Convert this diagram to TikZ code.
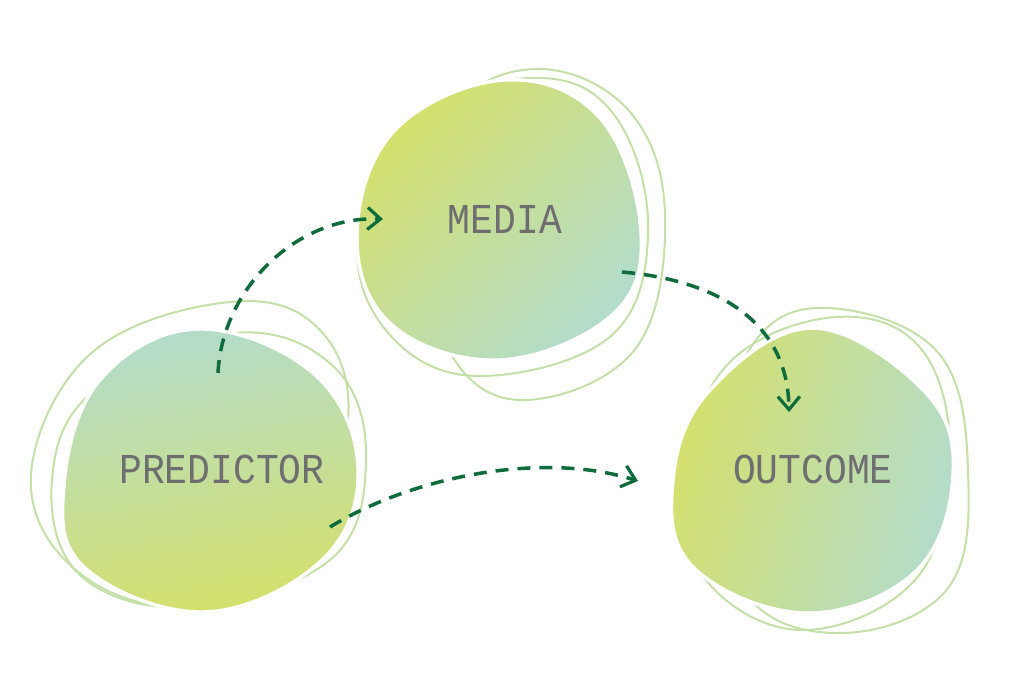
\documentclass[tikz,border=0pt]{standalone}
\usepackage{fontspec}
\newfontfamily\blobfont{Liberation Mono}
\usetikzlibrary{arrows.meta}

\definecolor{blobyellow}{HTML}{D5E06B}
\definecolor{blobteal}{HTML}{B3DCCB}
\definecolor{blobmid}{HTML}{C6E0A0}
\definecolor{scribblegreen}{HTML}{C4E0A8}
\definecolor{arrowgreen}{HTML}{0E6B3B}
\definecolor{textgray}{HTML}{6E6E70}

\begin{document}
\begin{tikzpicture}[x=1pt,y=-1pt,
  blob/.style={draw=white,line width=3.5pt},
  scribble/.style={draw=scribblegreen,line width=2pt},
  blobtext/.style={font=\blobfont\fontsize{38}{38}\selectfont,text=textgray},
  dasharrow/.style={draw=arrowgreen,line width=3.5pt,dash pattern=on 13pt off 9pt,
    -{Straight Barb[length=13pt,width=22pt,line width=3.2pt]}}]

\fill[white] (0,0) rectangle (1024,677);
\useasboundingbox (0,0) rectangle (1024,677);

% media scribbles
\draw[scribble] plot[smooth cycle,tension=0.65] coordinates {(540,69) (630,112) (665,215) (636,348) (527,400) (452,356) (425,235) (455,110)};
\draw[scribble] plot[smooth cycle,tension=0.65] coordinates {(530,78) (612,112) (648,225) (612,335) (480,376) (390,335) (358,240) (410,118)};

% media blob
\shade[blob,top color=blobyellow,middle color=blobmid,bottom color=blobteal,shading angle=45]
  plot[smooth cycle,tension=0.65] coordinates {(505,80) (600,118) (641,232) (612,315) (500,360) (392,325) (357,235) (395,130)};
\node[blobtext] (media) at (505,219) {\scalebox{1}[1.12]{MEDIA}};

% predictor scribbles
\draw[scribble] plot[smooth cycle,tension=0.65] coordinates {(230,302) (318,328) (348,420) (300,555) (170,605) (65,560) (32,465) (95,350)};
\draw[scribble] plot[smooth cycle,tension=0.65] coordinates {(235,333) (335,368) (366,460) (330,560) (190,607) (80,575) (52,480) (95,390)};

% predictor blob
\shade[blob,top color=blobteal,middle color=blobmid,bottom color=blobyellow,shading angle=10]
  plot[smooth cycle,tension=0.65] coordinates {(197,329) (313,373) (358,467) (322,560) (205,612) (85,568) (64,485) (100,380)};
\node[blobtext] (predictor) at (222,469) {\scalebox{1}[1.12]{PREDICTOR}};

% outcome scribbles
\draw[scribble] plot[smooth cycle,tension=0.65] coordinates {(840,309) (940,355) (968,470) (948,588) (843,633) (745,592) (720,450) (760,335)};
\draw[scribble] plot[smooth cycle,tension=0.65] coordinates {(837,317) (922,350) (950,460) (915,580) (800,630) (702,575) (685,470) (730,362)};

% outcome blob
\shade[blob,top color=blobyellow,middle color=blobmid,bottom color=blobteal,shading angle=75]
  plot[smooth cycle,tension=0.65] coordinates {(813,328) (925,392) (953,475) (915,572) (805,613) (693,567) (673,480) (710,390)};
\node[blobtext] (outcome) at (813,469) {\scalebox{1}[1.12]{OUTCOME}};

% connector ends
\coordinate (predictor up) at (218,373);
\coordinate (media left) at (383,219);
\coordinate (media right) at (622,272);
\coordinate (outcome top) at (789,412);
\coordinate (predictor right) at (330,527);
\coordinate (outcome left) at (638,481);

\draw[dasharrow] (predictor up) .. controls (222,290) and (295,216) .. (media left);
\draw[dasharrow] (media right) .. controls (715,280) and (788,320) .. (outcome top);
\draw[dasharrow] (predictor right) .. controls (410,478) and (540,450) .. (outcome left);

\end{tikzpicture}
\end{document}
